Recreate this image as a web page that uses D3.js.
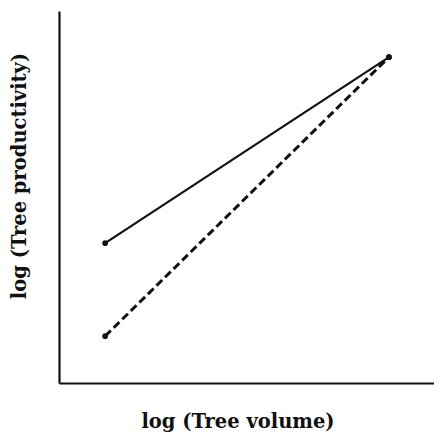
<!DOCTYPE html>
<html>
<head>
<meta charset="utf-8">
<script src="https://cdn.jsdelivr.net/npm/d3@7"></script>
<style>
  body { margin: 0; background: #fff; }
  svg { display: block; }
</style>
</head>
<body>
<div id="chart"></div>
<script>
// values in arbitrary log units
var volume = [12.3, 88.0];
var solidProd = [37.6, 87.6];
var dashedProd = [12.6, 87.6];
var xLabel = "log (Tree volume)";
var yLabel = "log (Tree productivity)";

var W = 434, H = 433;
var margin = {left: 59, right: 0, top: 11, bottom: 50};
var font = "'DejaVu Serif', serif";

var svg = d3.select("#chart").append("svg")
    .attr("width", W)
    .attr("height", H);

var x = d3.scaleLinear().domain([0, 100]).range([margin.left, W - margin.right]);
var y = d3.scaleLinear().domain([0, 100]).range([H - margin.bottom, margin.top]);

// axes without ticks
svg.append("g")
    .attr("transform", "translate(0," + y(0) + ")")
    .call(d3.axisBottom(x).tickValues([]).tickSizeOuter(0))
    .select(".domain").attr("stroke", "#111").attr("stroke-width", 2.2);

svg.append("g")
    .attr("transform", "translate(" + x(0) + ",0)")
    .call(d3.axisLeft(y).tickValues([]).tickSizeOuter(0))
    .select(".domain").attr("stroke", "#111").attr("stroke-width", 2.2);

var line = d3.line()
    .x(function(d) { return x(d[0]); })
    .y(function(d) { return y(d[1]); });

var solid = d3.zip(volume, solidProd);
var dashed = d3.zip(volume, dashedProd);

svg.append("path")
    .datum(solid)
    .attr("d", line)
    .attr("fill", "none")
    .attr("stroke", "#111")
    .attr("stroke-width", 2.2);

svg.append("path")
    .datum(dashed)
    .attr("d", line)
    .attr("fill", "none")
    .attr("stroke", "#111")
    .attr("stroke-width", 3)
    .attr("stroke-dasharray", "8,4");

svg.append("g")
    .selectAll("circle")
    .data(solid.concat(dashed))
    .enter()
    .append("circle")
    .attr("cx", function(d) { return x(d[0]); })
    .attr("cy", function(d) { return y(d[1]); })
    .attr("r", 2.8)
    .attr("fill", "#111");

svg.append("text")
    .attr("x", 238)
    .attr("y", 428)
    .attr("text-anchor", "middle")
    .style("font-family", font)
    .style("font-weight", "bold")
    .style("font-size", "19.5px")
    .attr("fill", "#111")
    .text(xLabel);

svg.append("text")
    .attr("transform", "translate(26,176) rotate(-90)")
    .attr("text-anchor", "middle")
    .style("font-family", font)
    .style("font-weight", "bold")
    .style("font-size", "19.5px")
    .attr("fill", "#111")
    .text(yLabel);
</script>
</body>
</html>
